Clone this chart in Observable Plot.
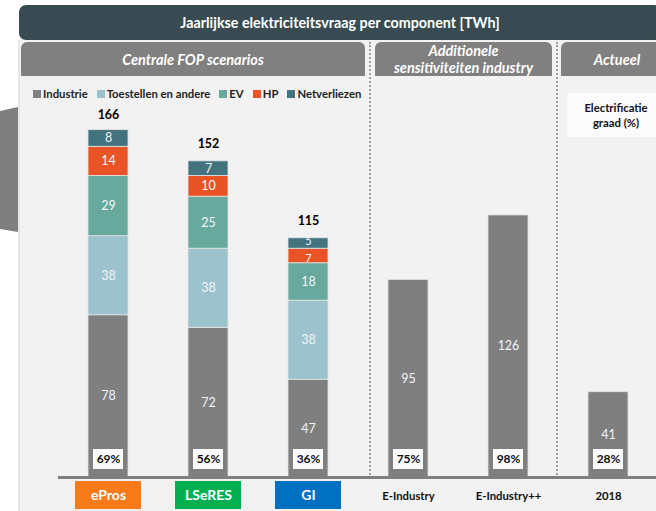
<!DOCTYPE html>
<html>
<head>
<meta charset="utf-8">
<script src="https://cdn.jsdelivr.net/npm/d3@7"></script>
<script src="https://cdn.jsdelivr.net/npm/@observablehq/plot@0.6"></script>
<style>
  html, body { margin: 0; padding: 0; background: #fff; }
  #wrap { position: relative; width: 656px; height: 511px; overflow: hidden; background: #fff; font-family: Lato, "Open Sans", sans-serif; }
  .abs { position: absolute; }
  .hdr { position: absolute; top: 42px; height: 34px; background: #808080; border-radius: 6px 6px 0 0; color: #fff; font-weight: bold; font-style: italic; font-size: 14.5px; display: flex; align-items: center; justify-content: center; text-align: center; line-height: 17px; }
  .dots { position: absolute; top: 42px; height: 436px; border-left: 2.5px dotted #a0a0a0; }
  #legend { position: absolute; top: 87px; left: 33px; display: flex; gap: 9px; font-size: 11.3px; font-weight: bold; color: #222; }
  #legend span.sw { display: inline-block; width: 8px; height: 8px; margin-right: 2px; vertical-align: 0px; }
</style>
</head>
<body>
<div id="wrap">
  <svg class="abs" style="left:0;top:0" width="20" height="250"><polygon points="0,111 18,107 18,232 0,229" fill="#7f7f7f"/></svg>
  <div class="abs" style="left:18px;top:40px;width:640px;height:471px;background:#f2f2f2;border-left:2px solid #e6e6e6;"></div>
  <div id="title" class="abs" style="left:19px;top:5px;width:642px;height:35px;background:#384b52;border-radius:7px;color:#fff;font-weight:bold;font-size:14.3px;display:flex;align-items:center;justify-content:center;"></div>
  <div id="h0" class="hdr" style="left:21px;width:344px;"></div>
  <div id="h1" class="hdr" style="left:375px;width:177px;"></div>
  <div id="h2" class="hdr" style="left:561px;width:112px;"></div>
  <div class="dots" style="left:369px;"></div>
  <div class="dots" style="left:556px;"></div>
  <div id="legend"></div>
  <div id="elec" class="abs" style="left:567px;top:93px;width:94px;height:44px;background:#fbfbfb;font-size:11.3px;font-weight:bold;color:#111;text-align:center;line-height:15px;box-sizing:border-box;padding-top:7px;padding-left:4px;"></div>
  <div id="chart" class="abs" style="left:0;top:0;"></div>
</div>
<script>
// ---- data ----
const title = "Jaarlijkse elektriciteitsvraag per component [TWh]";
const groupHeaders = ["Centrale FOP scenarios", "Additionele<br>sensitiviteiten industry", "Actueel"];
const scenarios = ["ePros", "LSeRES", "GI", "E-Industry", "E-Industry++", "2018"];
const components = ["Industrie", "Toestellen en andere", "EV", "HP", "Netverliezen"];
const componentColors = ["#7f7f7f", "#9cc3cd", "#67a99d", "#e85426", "#43737f"];
const industrie    = [78, 72, 47, 95, 126, 41];
const toestellen   = [38, 38, 38, 0, 0, 0];
const ev           = [29, 25, 18, 0, 0, 0];
const hp           = [14, 10, 7, 0, 0, 0];
const netverliezen = [8, 7, 5, 0, 0, 0];
const totals = [166, 152, 115, null, null, null];
const electrificatie = ["69%", "56%", "36%", "75%", "98%", "28%"];
const scenarioColors = ["#f77b1b", "#00b050", "#0070c0", null, null, null];
const elecLabel = "Electrificatie<br>graad (%)";

// ---- HTML decorations ----
document.getElementById("title").textContent = title;
["h0", "h1", "h2"].forEach((id, i) => document.getElementById(id).innerHTML = groupHeaders[i]);
document.getElementById("elec").innerHTML = elecLabel;
const leg = document.getElementById("legend");
components.forEach((c, i) => {
  const item = document.createElement("div");
  item.innerHTML = `<span class="sw" style="background:${componentColors[i]}"></span>${c}`;
  leg.appendChild(item);
});

// ---- build tables ----
const series = [industrie, toestellen, ev, hp, netverliezen];
const segs = [];
scenarios.forEach((s, i) => {
  let base = 0;
  series.forEach((arr, k) => {
    const v = arr[i];
    if (v > 0) {
      segs.push({scenario: s, component: components[k], value: v, y1: base, y2: base + v, mid: base + v / 2});
      base += v;
    }
  });
});
const isTight = d => d.value < 6;                       // very thin top segment
const isBelowTight = d => d.component === "HP" && d.value < 8; // segment right under a thin one
const totalData = scenarios.map((s, i) => ({scenario: s, total: totals[i]})).filter(d => d.total != null);
const pctData = scenarios.map((s, i) => ({scenario: s, pct: electrificatie[i]}));
const catData = scenarios.map((s, i) => ({scenario: s, color: scenarioColors[i]}));

const pxPerUnit = 2.08;
const baseY = 477;

const colorBoxes = catData.filter(d => d.color).map(d =>
  Plot.barY([d], {x: "scenario", y1: 0, y2: 0, insetTop: 4, insetBottom: -32, insetLeft: -13, insetRight: -13, fill: d.color})
);

const chart = Plot.plot({
  width: 656,
  height: 511,
  marginLeft: 58,
  marginRight: 0,
  marginTop: 0,
  marginBottom: 0,
  style: {background: "transparent", fontFamily: "Lato, 'Open Sans', sans-serif", overflow: "visible"},
  x: {domain: scenarios, range: [58, 658], paddingInner: 0.6, paddingOuter: 0.3, axis: null},
  y: {domain: [0, 166], range: [baseY, baseY - 166 * pxPerUnit], axis: null},
  color: {domain: components, range: componentColors},
  marks: [
    Plot.barY(segs, {x: "scenario", y1: "y1", y2: "y2", fill: "component", stroke: "#e4e4e4", strokeWidth: 0.8}),
    Plot.text(segs.filter(d => !isTight(d) && !isBelowTight(d)), {x: "scenario", y: "mid", text: d => String(d.value), fill: "#f4f4f4", fontSize: 12.5}),
    Plot.text(segs.filter(isTight), {x: "scenario", y: "mid", text: d => String(d.value), fill: "#f4f4f4", fontSize: 11, dy: -2.5}),
    Plot.text(segs.filter(isBelowTight), {x: "scenario", y: "mid", text: d => String(d.value), fill: "#f4f4f4", fontSize: 11, dy: 2}),
    Plot.text(totalData, {x: "scenario", y: "total", text: d => String(d.total), dy: -17, fontWeight: "bold", fontSize: 12.5, fill: "#000"}),
    Plot.barY(pctData, {x: "scenario", y1: 0, y2: 0, insetTop: -28, insetBottom: 8, insetLeft: 5, insetRight: 5, fill: "#fafafa"}),
    Plot.text(pctData, {x: "scenario", y: 0, dy: -18, text: "pct", fontWeight: "bold", fontSize: 12, fill: "#111"}),
    Plot.ruleY([0], {stroke: "#7f7f7f", strokeWidth: 3}),
    ...colorBoxes,
    Plot.text(catData.filter(d => d.color), {x: "scenario", y: 0, dy: 18, text: "scenario", fill: "#fff", fontWeight: "bold", fontSize: 14}),
    Plot.text(catData.filter(d => !d.color), {x: "scenario", y: 0, dy: 19, text: "scenario", fill: "#111", fontWeight: "bold", fontSize: 11.3})
  ]
});
document.getElementById("chart").appendChild(chart);
</script>
</body>
</html>
